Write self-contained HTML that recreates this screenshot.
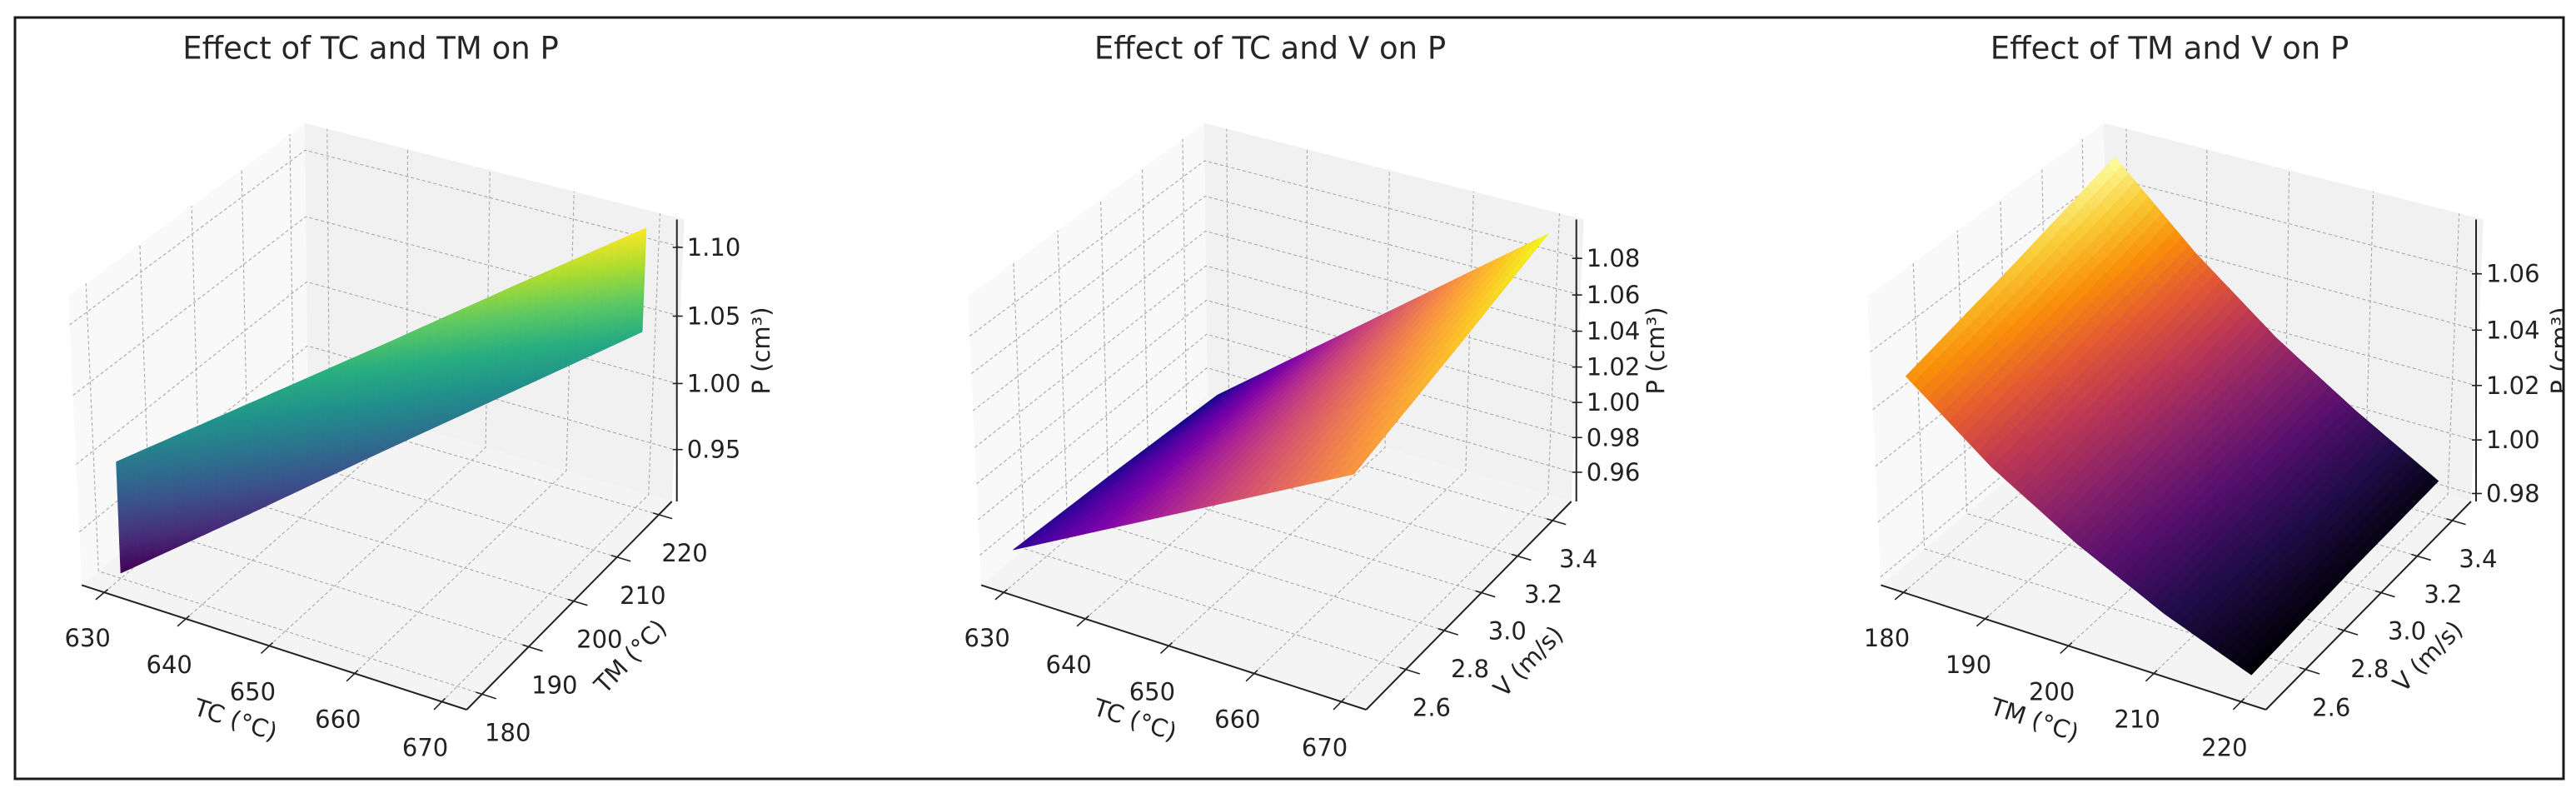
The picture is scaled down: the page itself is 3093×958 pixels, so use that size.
<!DOCTYPE html>
<html><head><meta charset="utf-8">
<style>
html,body{margin:0;padding:0;background:#fff;}
svg{display:block;font-family:"DejaVu Sans","Liberation Sans",sans-serif;}
</style></head>
<body>
<svg id="chart" width="3093" height="958" viewBox="0 0 3093 958" xmlns="http://www.w3.org/2000/svg">
<defs><clipPath id="fig-clip"><rect x="18" y="21" width="3060" height="914"/></clipPath></defs>
<rect x="0" y="0" width="3093" height="958" fill="#ffffff"/>
<g id="content" clip-path="url(#fig-clip)"></g>
<rect x="18" y="21" width="3060" height="914" fill="none" stroke="#1a1a1a" stroke-width="3"/>
</svg>
<script>
// ---- Panel 1 data: ribbon along TC/TM pairs ----
const p1TC = [630, 640, 650, 660, 670];
const p1TM = [180, 190, 200, 210, 220];
const p1PLow = [0.914, 0.946, 0.979, 1.011, 1.043];
const p1PHigh = [0.997, 1.027, 1.057, 1.088, 1.118];
// ---- Panel 2 data: P over TC x V ----
const p2TC = [630, 650, 670];
const p2V = [2.45, 2.95, 3.45];
const p2P_V245 = [0.962, 1.011, 1.060];
const p2P_V295 = [0.958, 1.017, 1.077];
const p2P_V345 = [0.953, 1.024, 1.095];
// ---- Panel 3 data: P over TM x V ----
const p3TM = [180, 190, 200, 210, 220];
const p3V = [2.45, 2.95, 3.45];
const p3P_V245 = [1.051, 1.028, 1.010, 0.995, 0.983];
const p3P_V295 = [1.061, 1.036, 1.016, 0.999, 0.985];
const p3P_V345 = [1.072, 1.045, 1.022, 1.003, 0.986];
// ---- Tick labels ----
const tcTicks = [630, 640, 650, 660, 670];
const tmTicks = [180, 190, 200, 210, 220];
const vTicks = [2.6, 2.8, 3.0, 3.2, 3.4];
const p1ZTicks = [0.95, 1.00, 1.05, 1.10];
const p2ZTicks = [0.96, 0.98, 1.00, 1.02, 1.04, 1.06, 1.08];
const p3ZTicks = [0.98, 1.00, 1.02, 1.04, 1.06];
const titles = ["Effect of TC and TM on P", "Effect of TC and V on P", "Effect of TM and V on P"];

const NS = "http://www.w3.org/2000/svg";
const root = document.getElementById("content");
const ASP = [1.1428, 1.1428, 0.8571];
const RC = [ASP[0]/2, ASP[1]/2, ASP[2]/2];
const U = [0.8660, 0.5, 0], V = [-0.25, 0.4330, 0.8660], W = [0.4330, -0.75, 0.5];
const KX = 4635, KY = 4614, CY = 483.7;

function el(tag, attrs, parent) {
  const e = document.createElementNS(NS, tag);
  for (const k in attrs) e.setAttribute(k, attrs[k]);
  (parent || root).appendChild(e);
  return e;
}
function dot(a, b) { return a[0]*b[0] + a[1]*b[1] + a[2]*b[2]; }
function projF(cx, fx, fy, fz) {
  const d = [fx*ASP[0]-RC[0], fy*ASP[1]-RC[1], fz*ASP[2]-RC[2]];
  const den = 10 - dot(W, d);
  return [cx + KX*dot(U, d)/den, CY - KY*dot(V, d)/den, dot(W, d)];
}
function lerpHex(a, b, t) {
  const pa = [1,3,5].map(i => parseInt(a.substr(i,2),16));
  const pb = [1,3,5].map(i => parseInt(b.substr(i,2),16));
  return "rgb(" + pa.map((v,i) => Math.round(v + (pb[i]-v)*t)).join(",") + ")";
}
const CMAPS = {
  viridis: ["#440154","#472d7b","#3b528b","#2c728e","#21918c","#28ae80","#5ec962","#addc30","#fde725"],
  plasma: ["#0d0887","#4c02a1","#7e03a8","#a92395","#cc4778","#e56b5d","#f89540","#fdc328","#f0f921"],
  inferno: ["#000004","#1f0c48","#550f6d","#88226a","#ba3655","#e35933","#f98e09","#f9cb35","#fcffa4"]
};
function cmap(name, t) {
  const s = CMAPS[name]; t = Math.max(0, Math.min(1, t));
  const f = t*(s.length-1), i = Math.min(Math.floor(f), s.length-2);
  return lerpHex(s[i], s[i+1], f-i);
}

const panels = [
  { cx: 458.7, xl: [627.2, 672.8], yl: [176.8, 223.2], zl: [0.910, 1.120],
    xt: tcTicks, yt: tmTicks, zt: p1ZTicks, zfmt: 2, yfmt: 0, cm: "viridis",
    xlab: "TC (°C)", ylab: "TM (°C)" },
  { cx: 1538.7, xl: [627.2, 672.8], yl: [2.40, 3.51], zl: [0.943, 1.101],
    xt: tcTicks, yt: vTicks, zt: p2ZTicks, zfmt: 2, yfmt: 1, cm: "plasma",
    xlab: "TC (°C)", ylab: "V (m/s)" },
  { cx: 2619, xl: [177.2, 222.8], yl: [2.40, 3.51], zl: [0.977, 1.079],
    xt: tmTicks, yt: vTicks, zt: p3ZTicks, zfmt: 2, yfmt: 1, cm: "inferno",
    xlab: "TM (°C)", ylab: "V (m/s)" }
];
function fr(l, v) { return (v - l[0]) / (l[1] - l[0]); }
function projD(p, x, y, z) { return projF(p.cx, fr(p.xl, x), fr(p.yl, y), fr(p.zl, z)); }
function pts(arr) { return arr.map(q => q[0].toFixed(1) + "," + q[1].toFixed(1)).join(" "); }

function drawAxes(p, idx, g) {
  const c = p.cx;
  const floor = el("polygon", {points: pts([projF(c,0,0,0),projF(c,1,0,0),projF(c,1,1,0),projF(c,0,1,0)]), fill: "#f4f4f4"}, g);
  
  
  const left = el("polygon", {points: pts([projF(c,0,0,0),projF(c,0,1,0),projF(c,0,1,1),projF(c,0,0,1)]), fill: "#f9f9f9"}, g);
  
  
  const back = el("polygon", {points: pts([projF(c,0,1,0),projF(c,1,1,0),projF(c,1,1,1),projF(c,0,1,1)]), fill: "#f1f1f1"}, g);
  
  
  const gs = {stroke: "#a8a8a8", "stroke-width": 1.1, "stroke-dasharray": "4,3", fill: "none"};
  p.xt.forEach(t => {
    const f = fr(p.xl, t);
    const a = projF(c,f,0,0), b = projF(c,f,1,0), d = projF(c,f,1,1);
    const gl = el("polyline", Object.assign({points: pts([a,b,d])}, gs), g);
    
    
  });
  p.yt.forEach(t => {
    const f = fr(p.yl, t);
    const a = projF(c,1,f,0), b = projF(c,0,f,0), d = projF(c,0,f,1);
    const gl = el("polyline", Object.assign({points: pts([a,b,d])}, gs), g);
    
    
  });
  p.zt.forEach(t => {
    const f = fr(p.zl, t);
    const a = projF(c,0,0,f), b = projF(c,0,1,f), d = projF(c,1,1,f);
    const gl = el("polyline", Object.assign({points: pts([a,b,d])}, gs), g);
    
    
  });
  const ax = {stroke: "#222", "stroke-width": 2, fill: "none"};
  const xa = el("line", Object.assign({x1: projF(c,0,0,0)[0], y1: projF(c,0,0,0)[1], x2: projF(c,1,0,0)[0], y2: projF(c,1,0,0)[1]}, ax), g);
  
  
  const ya = el("line", Object.assign({x1: projF(c,1,0,0)[0], y1: projF(c,1,0,0)[1], x2: projF(c,1,1,0)[0], y2: projF(c,1,1,0)[1]}, ax), g);
  
  
  const zb = projF(c,1,1,0), zt = projF(c,1,1,1);
  const zx = zb[0] + 6;
  const za = el("line", Object.assign({x1: zx, y1: zb[1], x2: zx, y2: zt[1]}, ax), g);
  
  
  const tk = {stroke: "#222", "stroke-width": 1.6};
  p.xt.forEach(t => {
    const f = fr(p.xl, t);
    const a = projF(c,f,0.015,0), b = projF(c,f,-0.035,0);
    const m = el("line", Object.assign({x1:a[0],y1:a[1],x2:b[0],y2:b[1]}, tk), g);
    
    
    const q = projF(c,f,0,0);
    const tx = el("text", {x: q[0]-20, y: q[1]+55, "font-size": 29, fill: "#222", "text-anchor": "middle", "dominant-baseline": "central"}, g);
    tx.textContent = String(t);
    
    
  });
  p.yt.forEach(t => {
    const f = fr(p.yl, t);
    const a = projF(c,0.985,f,0), b = projF(c,1.035,f,0);
    const m = el("line", Object.assign({x1:a[0],y1:a[1],x2:b[0],y2:b[1]}, tk), g);
    
    
    const q = projF(c,1,f,0);
    const tx = el("text", {x: q[0]+31, y: q[1]+46, "font-size": 29, fill: "#222", "text-anchor": "middle", "dominant-baseline": "central"}, g);
    tx.textContent = t.toFixed(p.yfmt);
    
    
  });
  p.zt.forEach(t => {
    const f = fr(p.zl, t);
    const q = projF(c,1,1,f);
    const m = el("line", Object.assign({x1: zx-5, y1: q[1], x2: zx+7, y2: q[1]}, tk), g);
    
    
    const tx = el("text", {x: zx+12, y: q[1], "font-size": 29, fill: "#222", "text-anchor": "start", "dominant-baseline": "central"}, g);
    tx.textContent = t.toFixed(p.zfmt);
    
    
  });
  const off = idx * 1080;
  const xl = el("text", {x: 283+off, y: 864, "font-size": 29, fill: "#222", "text-anchor": "middle", "dominant-baseline": "central", transform: "rotate(18 " + (283+off) + " 864)"}, g);
  xl.textContent = p.xlab;
  
  
  const yx = 757 + off + (idx === 0 ? 0 : -2), yy = idx === 1 ? 794 : 788;
  const yl = el("text", {x: yx, y: yy, "font-size": 29, fill: "#222", "text-anchor": "middle", "dominant-baseline": "central", transform: "rotate(-46 " + yx + " " + yy + ")"}, g);
  yl.textContent = p.ylab;
  
  
  const zxp = 914 + off + (idx === 1 ? -6 : 0);
  const zl = el("text", {x: zxp, y: 421, "font-size": 29, fill: "#222", "text-anchor": "middle", "dominant-baseline": "central", transform: "rotate(-90 " + zxp + " 421)"}, g);
  zl.textContent = "P (cm³)";
  
  
  const tt = el("text", {x: 445+off, y: 58, "font-size": 37, fill: "#262626", "text-anchor": "middle", "dominant-baseline": "central"}, g);
  tt.textContent = titles[idx];
  
  
}

// nodes[j][i] = [x,y,z]
function drawSurface(p, nodes, g, nsu, nsv) {
  let zmin = Infinity, zmax = -Infinity;
  nodes.forEach(r => r.forEach(n => { zmin = Math.min(zmin, n[2]); zmax = Math.max(zmax, n[2]); }));
  const quads = [];
  for (let j = 0; j < nodes.length-1; j++) {
    for (let i = 0; i < nodes[0].length-1; i++) {
      const n00 = nodes[j][i], n10 = nodes[j][i+1], n01 = nodes[j+1][i], n11 = nodes[j+1][i+1];
      const bl = (s, t) => [0,1,2].map(k => (1-s)*(1-t)*n00[k] + s*(1-t)*n10[k] + (1-s)*t*n01[k] + s*t*n11[k]);
      for (let b = 0; b < nsv; b++) for (let a = 0; a < nsu; a++) {
        const cs = [[a/nsu,b/nsv],[(a+1)/nsu,b/nsv],[(a+1)/nsu,(b+1)/nsv],[a/nsu,(b+1)/nsv]].map(st => bl(st[0], st[1]));
        const pr = cs.map(q => projD(p, q[0], q[1], q[2]));
        const zavg = cs.reduce((s, q) => s + q[2], 0) / 4;
        const dep = pr.reduce((s, q) => s + q[2], 0) / 4;
        quads.push({pr, zavg, dep});
      }
    }
  }
  quads.sort((a, b) => a.dep - b.dep);
  quads.forEach(q => {
    const col = cmap(p.cm, (q.zavg - zmin) / (zmax - zmin));
    const poly = el("polygon", {points: pts(q.pr), fill: col, stroke: col, "stroke-width": 0.8, "stroke-linejoin": "round"}, g);
    
    
  });
}

panels.forEach((p, idx) => {
  const g = el("g", {});
  
  
  drawAxes(p, idx, g);
  const sg = el("g", {}, g);
  
  
  let nodes;
  if (idx === 0) {
    nodes = [p1TC.map((x, i) => [x, p1TM[i], p1PLow[i]]), p1TC.map((x, i) => [x, p1TM[i], p1PHigh[i]])];
    drawSurface(p, nodes, sg, 16, 30);
  } else if (idx === 1) {
    const rows = [p2P_V245, p2P_V295, p2P_V345];
    nodes = p2V.map((v, j) => p2TC.map((x, i) => [x, v, rows[j][i]]));
    drawSurface(p, nodes, sg, 18, 14);
  } else {
    const rows = [p3P_V245, p3P_V295, p3P_V345];
    nodes = p3V.map((v, j) => p3TM.map((x, i) => [x, v, rows[j][i]]));
    drawSurface(p, nodes, sg, 12, 14);
  }
});
</script>
</body></html>
